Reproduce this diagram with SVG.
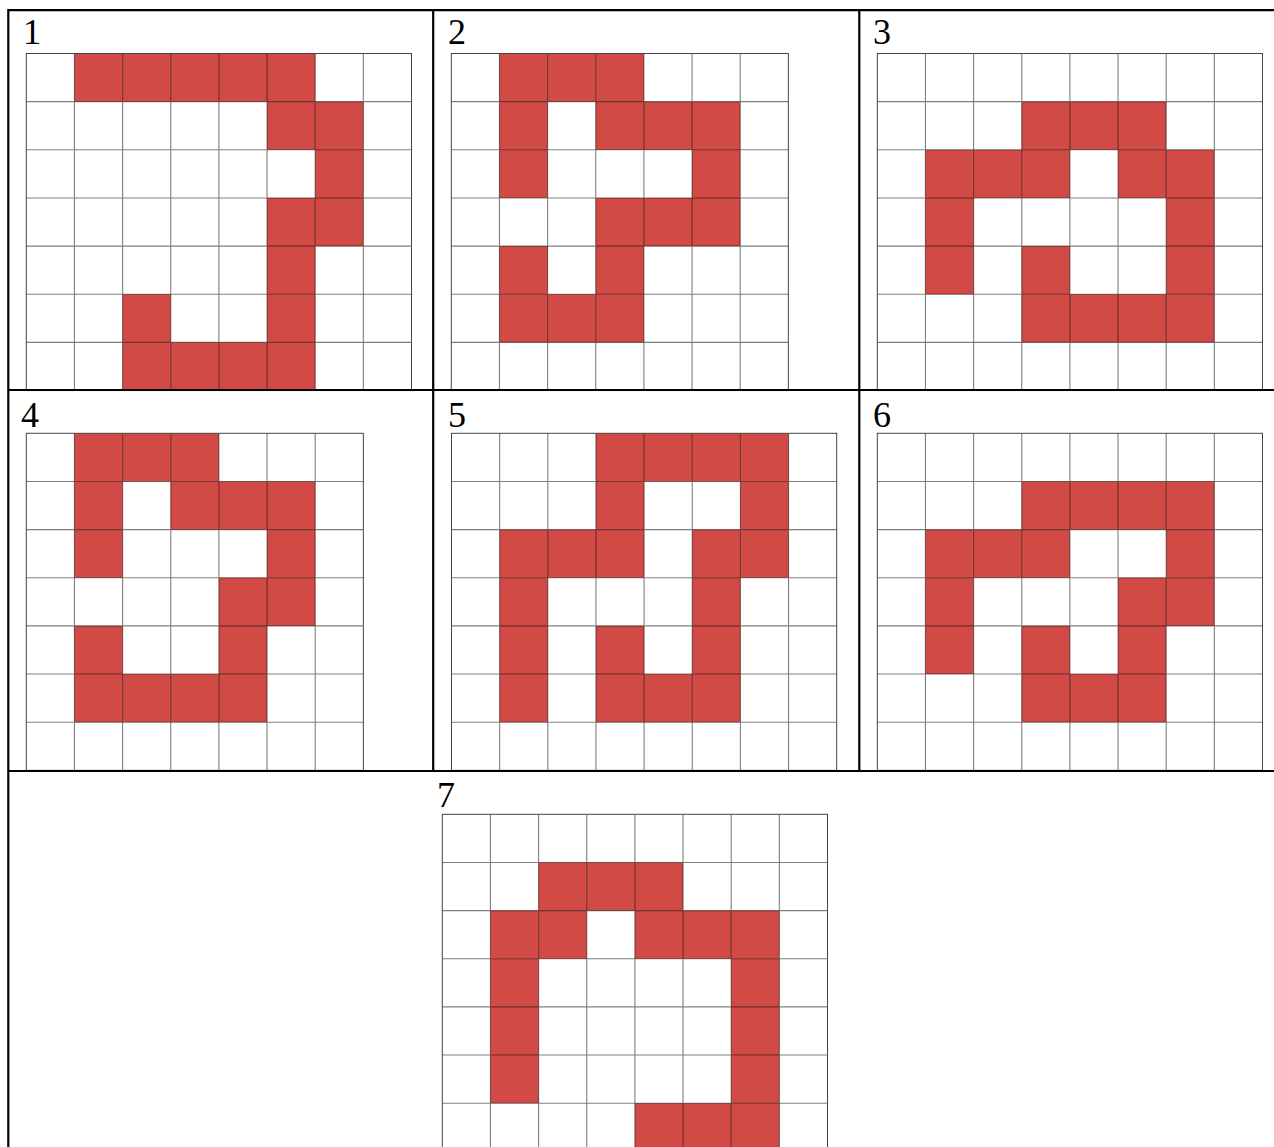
<svg xmlns="http://www.w3.org/2000/svg" xmlns:xlink="http://www.w3.org/1999/xlink" width="1274" height="1147" viewBox="0 0 1274 1147">
<style>
.r{fill:#d24a45}
.gl{fill:none;stroke:#000;stroke-opacity:.5;stroke-width:1.1}
.go{fill:none;stroke:#444;stroke-width:1}
.tb{stroke:#000;stroke-width:2.2;fill:none}
.lb{font-family:"Liberation Serif","Times New Roman",serif;font-size:36px;fill:#000}
</style>
<defs>
<rect id="c" width="48.15" height="48.15" class="r"/>
<path id="g8" class="gl" d="M48.15 0v337.05M96.3 0v337.05M144.45 0v337.05M192.6 0v337.05M240.75 0v337.05M288.9 0v337.05M337.05 0v337.05M0 48.15h385.2M0 96.3h385.2M0 144.45h385.2M0 192.6h385.2M0 240.75h385.2M0 288.9h385.2"/>
<path id="g7" class="gl" d="M48.15 0v337.05M96.3 0v337.05M144.45 0v337.05M192.6 0v337.05M240.75 0v337.05M288.9 0v337.05M0 48.15h337.05M0 96.3h337.05M0 144.45h337.05M0 192.6h337.05M0 240.75h337.05M0 288.9h337.05"/>
</defs>
<rect width="1274" height="1147" fill="#fff"/>

<g id="panel1" transform="translate(26.3,53.5)">
<use href="#c" x="48.15" y="0"/><use href="#c" x="96.3" y="0"/><use href="#c" x="144.45" y="0"/><use href="#c" x="192.6" y="0"/><use href="#c" x="240.75" y="0"/>
<use href="#c" x="240.75" y="48.15"/><use href="#c" x="288.9" y="48.15"/>
<use href="#c" x="288.9" y="96.3"/>
<use href="#c" x="240.75" y="144.45"/><use href="#c" x="288.9" y="144.45"/>
<use href="#c" x="240.75" y="192.6"/>
<use href="#c" x="96.3" y="240.75"/><use href="#c" x="240.75" y="240.75"/>
<use href="#c" x="96.3" y="288.9"/><use href="#c" x="144.45" y="288.9"/><use href="#c" x="192.6" y="288.9"/><use href="#c" x="240.75" y="288.9"/>
<use href="#g8"/><rect class="go" width="385.2" height="337.05"/>
</g>

<g id="panel2" transform="translate(451.3,53.5)">
<use href="#c" x="48.15" y="0"/><use href="#c" x="96.3" y="0"/><use href="#c" x="144.45" y="0"/>
<use href="#c" x="48.15" y="48.15"/><use href="#c" x="144.45" y="48.15"/><use href="#c" x="192.6" y="48.15"/><use href="#c" x="240.75" y="48.15"/>
<use href="#c" x="48.15" y="96.3"/><use href="#c" x="240.75" y="96.3"/>
<use href="#c" x="144.45" y="144.45"/><use href="#c" x="192.6" y="144.45"/><use href="#c" x="240.75" y="144.45"/>
<use href="#c" x="48.15" y="192.6"/><use href="#c" x="144.45" y="192.6"/>
<use href="#c" x="48.15" y="240.75"/><use href="#c" x="96.3" y="240.75"/><use href="#c" x="144.45" y="240.75"/>
<use href="#g7"/><rect class="go" width="337.05" height="337.05"/>
</g>

<g id="panel3" transform="translate(877.3,53.5)">
<use href="#c" x="144.45" y="48.15"/><use href="#c" x="192.6" y="48.15"/><use href="#c" x="240.75" y="48.15"/>
<use href="#c" x="48.15" y="96.3"/><use href="#c" x="96.3" y="96.3"/><use href="#c" x="144.45" y="96.3"/><use href="#c" x="240.75" y="96.3"/><use href="#c" x="288.9" y="96.3"/>
<use href="#c" x="48.15" y="144.45"/><use href="#c" x="288.9" y="144.45"/>
<use href="#c" x="48.15" y="192.6"/><use href="#c" x="144.45" y="192.6"/><use href="#c" x="288.9" y="192.6"/>
<use href="#c" x="144.45" y="240.75"/><use href="#c" x="192.6" y="240.75"/><use href="#c" x="240.75" y="240.75"/><use href="#c" x="288.9" y="240.75"/>
<use href="#g8"/><rect class="go" width="385.2" height="337.05"/>
</g>

<g id="panel4" transform="translate(26.3,433.3)">
<use href="#c" x="48.15" y="0"/><use href="#c" x="96.3" y="0"/><use href="#c" x="144.45" y="0"/>
<use href="#c" x="48.15" y="48.15"/><use href="#c" x="144.45" y="48.15"/><use href="#c" x="192.6" y="48.15"/><use href="#c" x="240.75" y="48.15"/>
<use href="#c" x="48.15" y="96.3"/><use href="#c" x="240.75" y="96.3"/>
<use href="#c" x="192.6" y="144.45"/><use href="#c" x="240.75" y="144.45"/>
<use href="#c" x="48.15" y="192.6"/><use href="#c" x="192.6" y="192.6"/>
<use href="#c" x="48.15" y="240.75"/><use href="#c" x="96.3" y="240.75"/><use href="#c" x="144.45" y="240.75"/><use href="#c" x="192.6" y="240.75"/>
<use href="#g7"/><rect class="go" width="337.05" height="337.05"/>
</g>

<g id="panel5" transform="translate(451.5,433.3)">
<use href="#c" x="144.45" y="0"/><use href="#c" x="192.6" y="0"/><use href="#c" x="240.75" y="0"/><use href="#c" x="288.9" y="0"/>
<use href="#c" x="144.45" y="48.15"/><use href="#c" x="288.9" y="48.15"/>
<use href="#c" x="48.15" y="96.3"/><use href="#c" x="96.3" y="96.3"/><use href="#c" x="144.45" y="96.3"/><use href="#c" x="240.75" y="96.3"/><use href="#c" x="288.9" y="96.3"/>
<use href="#c" x="48.15" y="144.45"/><use href="#c" x="240.75" y="144.45"/>
<use href="#c" x="48.15" y="192.6"/><use href="#c" x="144.45" y="192.6"/><use href="#c" x="240.75" y="192.6"/>
<use href="#c" x="48.15" y="240.75"/><use href="#c" x="144.45" y="240.75"/><use href="#c" x="192.6" y="240.75"/><use href="#c" x="240.75" y="240.75"/>
<use href="#g8"/><rect class="go" width="385.2" height="337.05"/>
</g>

<g id="panel6" transform="translate(877.3,433.3)">
<use href="#c" x="144.45" y="48.15"/><use href="#c" x="192.6" y="48.15"/><use href="#c" x="240.75" y="48.15"/><use href="#c" x="288.9" y="48.15"/>
<use href="#c" x="48.15" y="96.3"/><use href="#c" x="96.3" y="96.3"/><use href="#c" x="144.45" y="96.3"/><use href="#c" x="288.9" y="96.3"/>
<use href="#c" x="48.15" y="144.45"/><use href="#c" x="240.75" y="144.45"/><use href="#c" x="288.9" y="144.45"/>
<use href="#c" x="48.15" y="192.6"/><use href="#c" x="144.45" y="192.6"/><use href="#c" x="240.75" y="192.6"/>
<use href="#c" x="144.45" y="240.75"/><use href="#c" x="192.6" y="240.75"/><use href="#c" x="240.75" y="240.75"/>
<use href="#g8"/><rect class="go" width="385.2" height="337.05"/>
</g>

<g id="panel7" transform="translate(442.3,814.3)">
<use href="#c" x="96.3" y="48.15"/><use href="#c" x="144.45" y="48.15"/><use href="#c" x="192.6" y="48.15"/>
<use href="#c" x="48.15" y="96.3"/><use href="#c" x="96.3" y="96.3"/><use href="#c" x="192.6" y="96.3"/><use href="#c" x="240.75" y="96.3"/><use href="#c" x="288.9" y="96.3"/>
<use href="#c" x="48.15" y="144.45"/><use href="#c" x="288.9" y="144.45"/>
<use href="#c" x="48.15" y="192.6"/><use href="#c" x="288.9" y="192.6"/>
<use href="#c" x="48.15" y="240.75"/><use href="#c" x="288.9" y="240.75"/>
<use href="#c" x="192.6" y="288.9"/><use href="#c" x="240.75" y="288.9"/><use href="#c" x="288.9" y="288.9"/>
<use href="#g8"/><rect class="go" width="385.2" height="337.05"/>
</g>

<g id="table">
<path class="tb" d="M8.3 10.2H1274M8.3 9.1V1147M433.2 10.2V771M859.3 10.2V771M8.3 390H1274M8.3 771H1274"/>
</g>

<g id="labels">
<text class="lb" x="23" y="44">1</text>
<text class="lb" x="448" y="44">2</text>
<text class="lb" x="873" y="44">3</text>
<text class="lb" x="21" y="427">4</text>
<text class="lb" x="448" y="427">5</text>
<text class="lb" x="873" y="427">6</text>
<text class="lb" x="437" y="807">7</text>
</g>
</svg>
